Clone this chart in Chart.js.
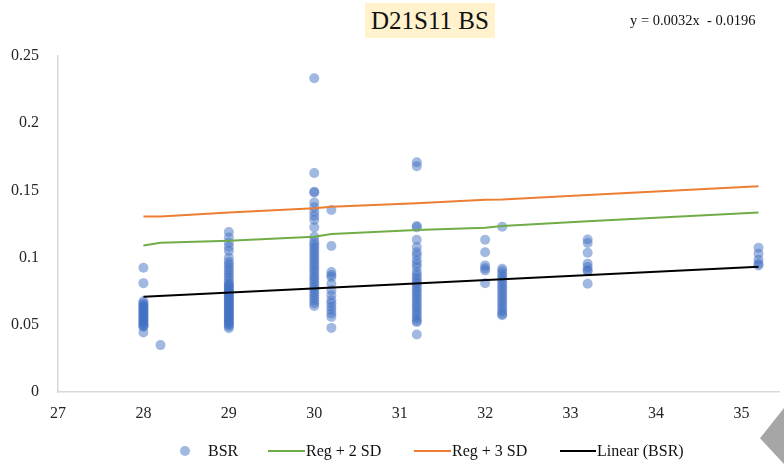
<!DOCTYPE html>
<html>
<head>
<meta charset="utf-8">
<script src="https://cdn.jsdelivr.net/npm/chart.js@4/dist/chart.umd.min.js"></script>
<style>
  html, body { margin: 0; padding: 0; background: #fff; }
  #wrap { position: relative; width: 784px; height: 464px; overflow: hidden; font-family: "Liberation Serif", "Times New Roman", serif; }
  #c { position: absolute; left: 0; top: 0; }
  #title { position: absolute; left: 365px; top: 3px; width: 130px; height: 35px; background: #FFF2CC; color: #111; font-size: 25px; line-height: 35px; text-align: center; }
  #eq { position: absolute; left: 630px; top: 12px; font-size: 14.5px; color: #111; white-space: pre; }
  #legend { position: absolute; left: 0; top: 440px; width: 784px; height: 22px; font-size: 16px; color: #111; }
  .li { position: absolute; top: 0; line-height: 22px; white-space: nowrap; }
  .sw { position: absolute; }
  #tri { position: absolute; left: 760px; top: 408px; width: 24px; height: 56px; background: #A6A6A6; clip-path: polygon(100% 0, 100% 100%, 0 54%); }
</style>
</head>
<body>
<div id="wrap">
  <canvas id="c" width="784" height="464"></canvas>
  <div id="title">D21S11 BS</div>
  <div id="eq">y = 0.0032x  - 0.0196</div>
  <div id="legend"></div>
  <div id="tri"></div>
</div>
<script>
// ---- data ----
const xTicks = [27, 28, 29, 30, 31, 32, 33, 34, 35];
const yTicks = [0, 0.05, 0.1, 0.15, 0.2, 0.25];

const bsr28   = [0.0925, 0.081, 0.0675, 0.066, 0.065, 0.064, 0.063, 0.062, 0.061, 0.060, 0.059, 0.058, 0.057, 0.056, 0.055, 0.054, 0.053, 0.052, 0.051, 0.050, 0.049, 0.0485, 0.0443];
const bsr28_2 = [0.0349];
const bsr29   = [0.119, 0.115, 0.111, 0.108, 0.105, 0.100, 0.097, 0.095, 0.093, 0.091, 0.089, 0.087, 0.085, 0.083, 0.081, 0.080, 0.079, 0.078, 0.077, 0.076, 0.075, 0.074, 0.073, 0.072, 0.071, 0.070, 0.069, 0.068, 0.067, 0.066, 0.065, 0.064, 0.063, 0.062, 0.061, 0.060, 0.059, 0.058, 0.057, 0.056, 0.055, 0.054, 0.053, 0.052, 0.051, 0.050, 0.049, 0.0475];
const bsr30   = [0.2334, 0.163, 0.149, 0.1485, 0.141, 0.1375, 0.134, 0.131, 0.128, 0.1225, 0.1155, 0.112, 0.110, 0.108, 0.106, 0.104, 0.102, 0.100, 0.098, 0.096, 0.094, 0.092, 0.090, 0.088, 0.086, 0.084, 0.082, 0.080, 0.078, 0.076, 0.074, 0.072, 0.070, 0.068, 0.066, 0.064];
const bsr30_2 = [0.1355, 0.1086, 0.0893, 0.087, 0.0856, 0.0806, 0.0757, 0.072, 0.0682, 0.066, 0.0633, 0.061, 0.0584, 0.0559, 0.0477];
const bsr31_2 = [0.171, 0.168, 0.1235, 0.1225, 0.1133, 0.1078, 0.104, 0.1016, 0.098, 0.0955, 0.093, 0.0893, 0.087, 0.085, 0.083, 0.081, 0.079, 0.077, 0.075, 0.073, 0.071, 0.069, 0.067, 0.065, 0.063, 0.061, 0.059, 0.057, 0.055, 0.053, 0.052, 0.0428];
const bsr32   = [0.1133, 0.104, 0.0942, 0.092, 0.0905, 0.081];
const bsr32_2 = [0.123, 0.0917, 0.090, 0.088, 0.086, 0.084, 0.082, 0.080, 0.078, 0.076, 0.074, 0.072, 0.070, 0.068, 0.066, 0.064, 0.062, 0.060, 0.058, 0.0571];
const bsr33_2 = [0.1135, 0.1108, 0.1036, 0.0955, 0.093, 0.0905, 0.090, 0.0806];
const bsr35_2 = [0.1073, 0.1029, 0.0984, 0.0955, 0.0942];

const regX      = [28, 28.2, 29, 30, 30.2, 31.2, 32, 32.2, 33.2, 35.2];
const reg2SD    = [0.109, 0.111, 0.1125, 0.1155, 0.1175, 0.1205, 0.1222, 0.1235, 0.127, 0.1335];
const reg3SD    = [0.1305, 0.1305, 0.1335, 0.1368, 0.1378, 0.1405, 0.143, 0.1432, 0.1465, 0.153];
const linearX   = [28, 35.2];
const linearBSR = [0.0708, 0.0932];

// ---- build datasets ----
const groups = [[28, bsr28], [28.2, bsr28_2], [29, bsr29], [30, bsr30], [30.2, bsr30_2], [31.2, bsr31_2], [32, bsr32], [32.2, bsr32_2], [33.2, bsr33_2], [35.2, bsr35_2]];
const bsrPts = [];
groups.forEach(([x, arr]) => arr.forEach(y => bsrPts.push({x, y})));
const toPts = (xs, ys) => xs.map((x, i) => ({x, y: ys[i]}));

const FONT = "'Liberation Serif', 'Times New Roman', serif";
const TICK_COLOR = '#262626';

const series = [
  {label: 'BSR', type: 'scatter', data: bsrPts, backgroundColor: 'rgba(68,114,196,0.5)', borderWidth: 0, pointRadius: 5, order: 4},
  {label: 'Reg + 2 SD', type: 'line', data: toPts(regX, reg2SD), borderColor: '#70AD47', borderWidth: 2, pointRadius: 0, fill: false, tension: 0, order: 3},
  {label: 'Reg + 3 SD', type: 'line', data: toPts(regX, reg3SD), borderColor: '#ED7D31', borderWidth: 2, pointRadius: 0, fill: false, tension: 0, order: 2},
  {label: 'Linear (BSR)', type: 'line', data: toPts(linearX, linearBSR), borderColor: '#000000', borderWidth: 2, pointRadius: 0, fill: false, tension: 0, order: 1}
];

new Chart(document.getElementById('c'), {
  type: 'scatter',
  data: {datasets: series},
  options: {
    responsive: false,
    animation: false,
    events: [],
    layout: {padding: {top: 56, right: 0, left: 0, bottom: 32}},
    plugins: {legend: {display: false}, title: {display: false}, tooltip: {enabled: false}},
    scales: {
      x: {
        type: 'linear', min: 27, max: 35.44,
        afterBuildTicks: s => { s.ticks = xTicks.map(v => ({value: v})); },
        afterFit: s => { s.height = 40; },
        grid: {display: false, drawTicks: false},
        border: {display: true, color: '#D9D9D9', width: 1.5},
        ticks: {padding: 12, color: TICK_COLOR, font: {family: FONT, size: 16}, maxRotation: 0, callback: v => String(v)}
      },
      y: {
        type: 'linear', min: 0, max: 0.25,
        afterBuildTicks: s => { s.ticks = yTicks.map(v => ({value: v})); },
        afterFit: s => { s.width = 58; },
        grid: {display: false, drawTicks: false},
        border: {display: true, color: '#D9D9D9', width: 1.5},
        ticks: {padding: 19, color: TICK_COLOR, font: {family: FONT, size: 16}, callback: v => String(Number(v.toFixed(2)))}
      }
    }
  }
});

// ---- legend (HTML text) ----
const legendItems = [
  {label: 'BSR', kind: 'dot', color: 'rgba(68,114,196,0.5)', sx: 180, tx: 208},
  {label: 'Reg + 2 SD', kind: 'line', color: '#70AD47', sx: 268, tx: 306},
  {label: 'Reg + 3 SD', kind: 'line', color: '#ED7D31', sx: 414, tx: 452},
  {label: 'Linear (BSR)', kind: 'line', color: '#000000', sx: 560, tx: 597}
];
const lg = document.getElementById('legend');
legendItems.forEach(it => {
  const sw = document.createElement('div');
  sw.className = 'sw';
  if (it.kind === 'dot') {
    Object.assign(sw.style, {left: it.sx + 'px', top: '6px', width: '10px', height: '10px', borderRadius: '50%', background: it.color});
  } else {
    Object.assign(sw.style, {left: it.sx + 'px', top: '10px', width: (it.tx - it.sx - 1) + 'px', height: '2px', background: it.color});
  }
  lg.appendChild(sw);
  const t = document.createElement('div');
  t.className = 'li';
  t.style.left = it.tx + 'px';
  t.textContent = it.label;
  lg.appendChild(t);
});
</script>
</body>
</html>
